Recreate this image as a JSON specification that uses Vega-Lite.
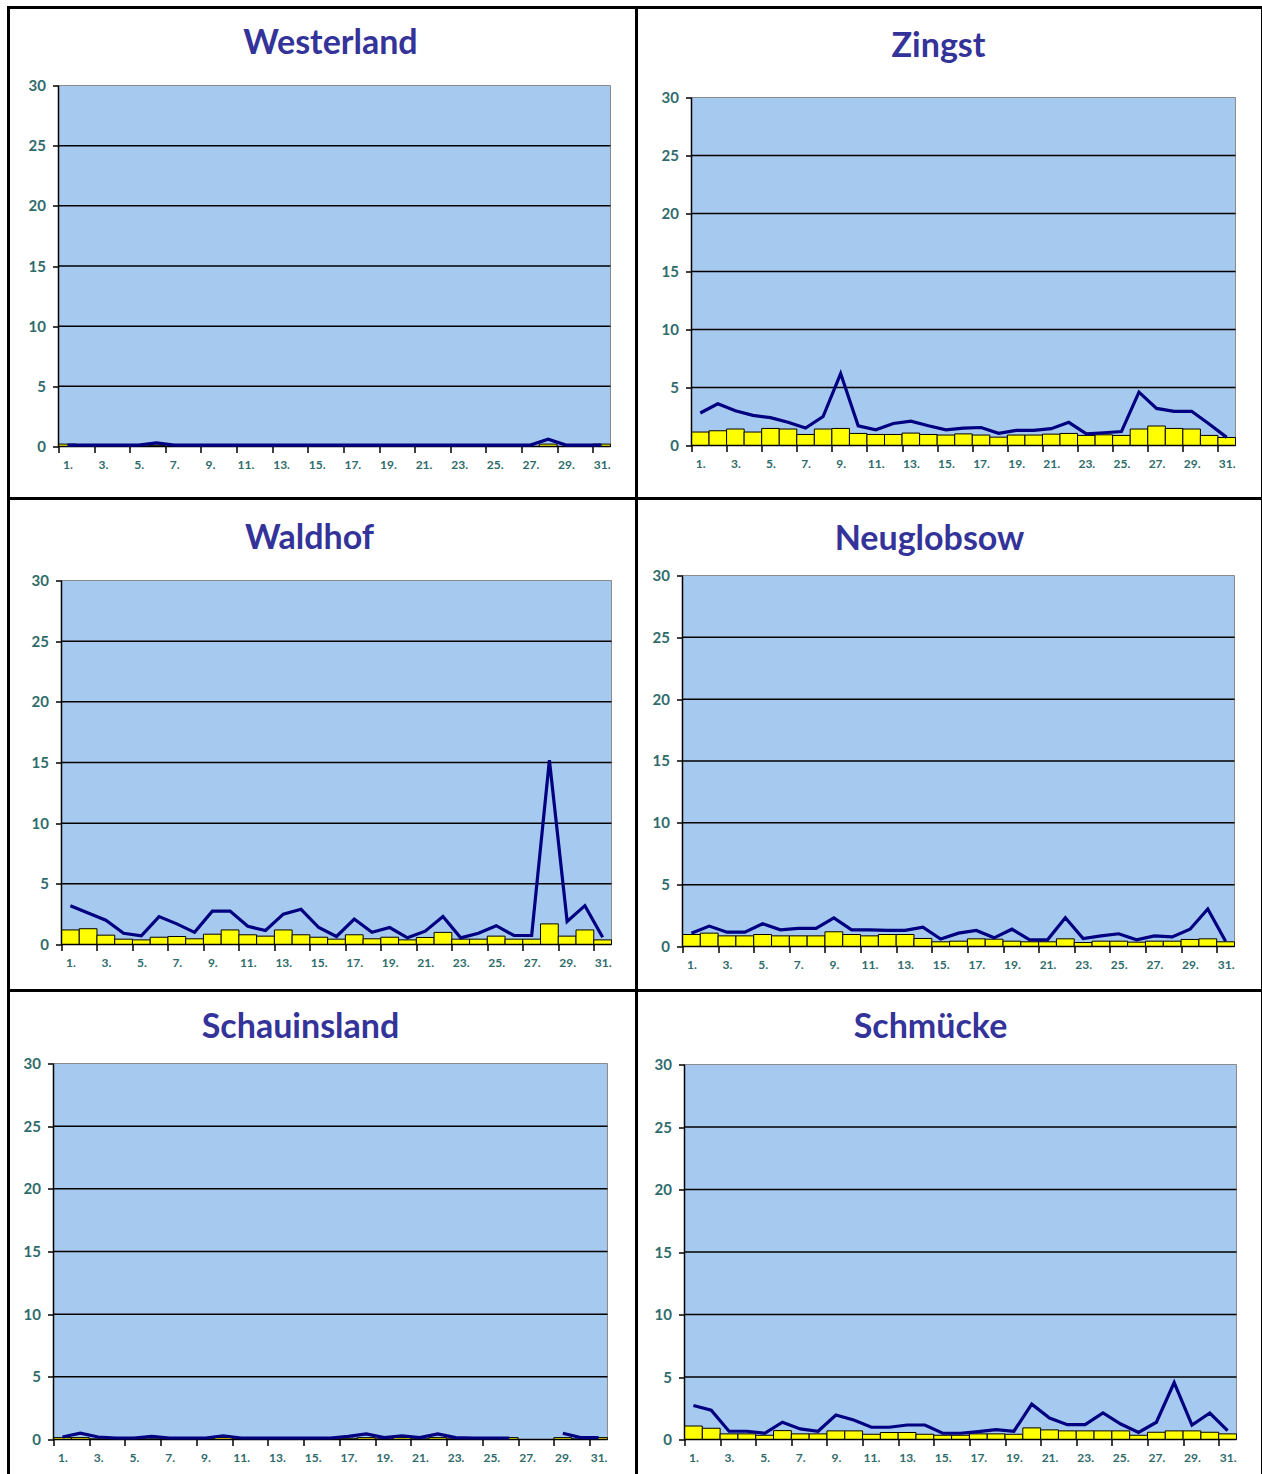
{
  "$schema": "https://vega.github.io/schema/vega-lite/v6.json",
  "background": "white",
  "padding": {"left": 6.5, "top": 5.5, "right": 0, "bottom": 0},
  "columns": 2,
  "spacing": 0,
  "bounds": "flush",
  "align": "each",
  "datasets": {
    "grid": [{"v": 5}, {"v": 10}, {"v": 15}, {"v": 20}, {"v": 25}],
    "pm": [
      {"station":"Westerland","day":1,"bar":0.2,"line":0.12},
      {"station":"Westerland","day":2,"bar":0,"line":0.12},
      {"station":"Westerland","day":3,"bar":0,"line":0.12},
      {"station":"Westerland","day":4,"bar":0,"line":0.12},
      {"station":"Westerland","day":5,"bar":0,"line":0.12},
      {"station":"Westerland","day":6,"bar":0.1,"line":0.3},
      {"station":"Westerland","day":7,"bar":0,"line":0.12},
      {"station":"Westerland","day":8,"bar":0,"line":0.12},
      {"station":"Westerland","day":9,"bar":0,"line":0.12},
      {"station":"Westerland","day":10,"bar":0,"line":0.12},
      {"station":"Westerland","day":11,"bar":0,"line":0.12},
      {"station":"Westerland","day":12,"bar":0,"line":0.12},
      {"station":"Westerland","day":13,"bar":0,"line":0.12},
      {"station":"Westerland","day":14,"bar":0,"line":0.12},
      {"station":"Westerland","day":15,"bar":0,"line":0.12},
      {"station":"Westerland","day":16,"bar":0,"line":0.12},
      {"station":"Westerland","day":17,"bar":0,"line":0.12},
      {"station":"Westerland","day":18,"bar":0,"line":0.12},
      {"station":"Westerland","day":19,"bar":0,"line":0.12},
      {"station":"Westerland","day":20,"bar":0,"line":0.12},
      {"station":"Westerland","day":21,"bar":0,"line":0.12},
      {"station":"Westerland","day":22,"bar":0,"line":0.12},
      {"station":"Westerland","day":23,"bar":0,"line":0.12},
      {"station":"Westerland","day":24,"bar":0,"line":0.12},
      {"station":"Westerland","day":25,"bar":0,"line":0.12},
      {"station":"Westerland","day":26,"bar":0,"line":0.12},
      {"station":"Westerland","day":27,"bar":0,"line":0.12},
      {"station":"Westerland","day":28,"bar":0.2,"line":0.6},
      {"station":"Westerland","day":29,"bar":0,"line":0.12},
      {"station":"Westerland","day":30,"bar":0,"line":0.12},
      {"station":"Westerland","day":31,"bar":0.2,"line":0.12},

      {"station":"Zingst","day":1,"bar":1.16,"line":2.8},
      {"station":"Zingst","day":2,"bar":1.27,"line":3.6},
      {"station":"Zingst","day":3,"bar":1.42,"line":3.0},
      {"station":"Zingst","day":4,"bar":1.16,"line":2.6},
      {"station":"Zingst","day":5,"bar":1.47,"line":2.4},
      {"station":"Zingst","day":6,"bar":1.42,"line":2.0},
      {"station":"Zingst","day":7,"bar":0.95,"line":1.5},
      {"station":"Zingst","day":8,"bar":1.42,"line":2.5},
      {"station":"Zingst","day":9,"bar":1.47,"line":6.2},
      {"station":"Zingst","day":10,"bar":1.04,"line":1.7},
      {"station":"Zingst","day":11,"bar":0.95,"line":1.35},
      {"station":"Zingst","day":12,"bar":0.95,"line":1.9},
      {"station":"Zingst","day":13,"bar":1.07,"line":2.1},
      {"station":"Zingst","day":14,"bar":0.95,"line":1.7},
      {"station":"Zingst","day":15,"bar":0.9,"line":1.35},
      {"station":"Zingst","day":16,"bar":1.0,"line":1.5},
      {"station":"Zingst","day":17,"bar":0.9,"line":1.55},
      {"station":"Zingst","day":18,"bar":0.72,"line":1.05},
      {"station":"Zingst","day":19,"bar":0.9,"line":1.3},
      {"station":"Zingst","day":20,"bar":0.9,"line":1.3},
      {"station":"Zingst","day":21,"bar":0.98,"line":1.45},
      {"station":"Zingst","day":22,"bar":1.04,"line":2.0},
      {"station":"Zingst","day":23,"bar":0.87,"line":1.0},
      {"station":"Zingst","day":24,"bar":0.92,"line":1.1},
      {"station":"Zingst","day":25,"bar":0.87,"line":1.2},
      {"station":"Zingst","day":26,"bar":1.42,"line":4.6},
      {"station":"Zingst","day":27,"bar":1.68,"line":3.2},
      {"station":"Zingst","day":28,"bar":1.47,"line":2.95},
      {"station":"Zingst","day":29,"bar":1.42,"line":2.95},
      {"station":"Zingst","day":30,"bar":0.87,"line":1.85},
      {"station":"Zingst","day":31,"bar":0.69,"line":0.7},

      {"station":"Waldhof","day":1,"bar":1.2,"line":3.2},
      {"station":"Waldhof","day":2,"bar":1.3,"line":2.6},
      {"station":"Waldhof","day":3,"bar":0.77,"line":2.0},
      {"station":"Waldhof","day":4,"bar":0.44,"line":0.93},
      {"station":"Waldhof","day":5,"bar":0.38,"line":0.71},
      {"station":"Waldhof","day":6,"bar":0.6,"line":2.3},
      {"station":"Waldhof","day":7,"bar":0.66,"line":1.7},
      {"station":"Waldhof","day":8,"bar":0.47,"line":1.0},
      {"station":"Waldhof","day":9,"bar":0.85,"line":2.75},
      {"station":"Waldhof","day":10,"bar":1.2,"line":2.75},
      {"station":"Waldhof","day":11,"bar":0.8,"line":1.5},
      {"station":"Waldhof","day":12,"bar":0.69,"line":1.15},
      {"station":"Waldhof","day":13,"bar":1.2,"line":2.5},
      {"station":"Waldhof","day":14,"bar":0.8,"line":2.9},
      {"station":"Waldhof","day":15,"bar":0.6,"line":1.4},
      {"station":"Waldhof","day":16,"bar":0.44,"line":0.66},
      {"station":"Waldhof","day":17,"bar":0.8,"line":2.1},
      {"station":"Waldhof","day":18,"bar":0.47,"line":1.0},
      {"station":"Waldhof","day":19,"bar":0.6,"line":1.4},
      {"station":"Waldhof","day":20,"bar":0.38,"line":0.55},
      {"station":"Waldhof","day":21,"bar":0.58,"line":1.1},
      {"station":"Waldhof","day":22,"bar":1.0,"line":2.3},
      {"station":"Waldhof","day":23,"bar":0.44,"line":0.55},
      {"station":"Waldhof","day":24,"bar":0.44,"line":0.93},
      {"station":"Waldhof","day":25,"bar":0.69,"line":1.55},
      {"station":"Waldhof","day":26,"bar":0.44,"line":0.74},
      {"station":"Waldhof","day":27,"bar":0.44,"line":0.74},
      {"station":"Waldhof","day":28,"bar":1.7,"line":15.2},
      {"station":"Waldhof","day":29,"bar":0.69,"line":1.9},
      {"station":"Waldhof","day":30,"bar":1.2,"line":3.2},
      {"station":"Waldhof","day":31,"bar":0.38,"line":0.6},

      {"station":"Neuglobsow","day":1,"bar":0.97,"line":1.08},
      {"station":"Neuglobsow","day":2,"bar":1.08,"line":1.65},
      {"station":"Neuglobsow","day":3,"bar":0.86,"line":1.16},
      {"station":"Neuglobsow","day":4,"bar":0.86,"line":1.16},
      {"station":"Neuglobsow","day":5,"bar":0.97,"line":1.84},
      {"station":"Neuglobsow","day":6,"bar":0.86,"line":1.35},
      {"station":"Neuglobsow","day":7,"bar":0.86,"line":1.46},
      {"station":"Neuglobsow","day":8,"bar":0.86,"line":1.46},
      {"station":"Neuglobsow","day":9,"bar":1.19,"line":2.32},
      {"station":"Neuglobsow","day":10,"bar":0.97,"line":1.35},
      {"station":"Neuglobsow","day":11,"bar":0.86,"line":1.35},
      {"station":"Neuglobsow","day":12,"bar":0.97,"line":1.3},
      {"station":"Neuglobsow","day":13,"bar":0.97,"line":1.3},
      {"station":"Neuglobsow","day":14,"bar":0.65,"line":1.57},
      {"station":"Neuglobsow","day":15,"bar":0.38,"line":0.6},
      {"station":"Neuglobsow","day":16,"bar":0.43,"line":1.08},
      {"station":"Neuglobsow","day":17,"bar":0.62,"line":1.3},
      {"station":"Neuglobsow","day":18,"bar":0.59,"line":0.7},
      {"station":"Neuglobsow","day":19,"bar":0.43,"line":1.4},
      {"station":"Neuglobsow","day":20,"bar":0.38,"line":0.54},
      {"station":"Neuglobsow","day":21,"bar":0.38,"line":0.54},
      {"station":"Neuglobsow","day":22,"bar":0.62,"line":2.32},
      {"station":"Neuglobsow","day":23,"bar":0.32,"line":0.65},
      {"station":"Neuglobsow","day":24,"bar":0.43,"line":0.86},
      {"station":"Neuglobsow","day":25,"bar":0.43,"line":1.03},
      {"station":"Neuglobsow","day":26,"bar":0.35,"line":0.54},
      {"station":"Neuglobsow","day":27,"bar":0.43,"line":0.86},
      {"station":"Neuglobsow","day":28,"bar":0.43,"line":0.78},
      {"station":"Neuglobsow","day":29,"bar":0.57,"line":1.4},
      {"station":"Neuglobsow","day":30,"bar":0.62,"line":3.03},
      {"station":"Neuglobsow","day":31,"bar":0.38,"line":0.43},

      {"station":"Schauinsland","day":1,"bar":0.15,"line":0.2},
      {"station":"Schauinsland","day":2,"bar":0.15,"line":0.5},
      {"station":"Schauinsland","day":3,"bar":0.05,"line":0.2},
      {"station":"Schauinsland","day":4,"bar":0.05,"line":0.12},
      {"station":"Schauinsland","day":5,"bar":0.05,"line":0.12},
      {"station":"Schauinsland","day":6,"bar":0.05,"line":0.25},
      {"station":"Schauinsland","day":7,"bar":0.05,"line":0.12},
      {"station":"Schauinsland","day":8,"bar":0.05,"line":0.12},
      {"station":"Schauinsland","day":9,"bar":0.05,"line":0.12},
      {"station":"Schauinsland","day":10,"bar":0.15,"line":0.3},
      {"station":"Schauinsland","day":11,"bar":0.05,"line":0.12},
      {"station":"Schauinsland","day":12,"bar":0.05,"line":0.12},
      {"station":"Schauinsland","day":13,"bar":0.05,"line":0.12},
      {"station":"Schauinsland","day":14,"bar":0.05,"line":0.12},
      {"station":"Schauinsland","day":15,"bar":0.05,"line":0.12},
      {"station":"Schauinsland","day":16,"bar":0.05,"line":0.12},
      {"station":"Schauinsland","day":17,"bar":0.1,"line":0.25},
      {"station":"Schauinsland","day":18,"bar":0.15,"line":0.45},
      {"station":"Schauinsland","day":19,"bar":0.05,"line":0.15},
      {"station":"Schauinsland","day":20,"bar":0.15,"line":0.3},
      {"station":"Schauinsland","day":21,"bar":0.05,"line":0.15},
      {"station":"Schauinsland","day":22,"bar":0.15,"line":0.45},
      {"station":"Schauinsland","day":23,"bar":0.05,"line":0.15},
      {"station":"Schauinsland","day":24,"bar":0.05,"line":0.12},
      {"station":"Schauinsland","day":25,"bar":0.05,"line":0.12},
      {"station":"Schauinsland","day":26,"bar":0.15,"line":0.12},
      {"station":"Schauinsland","day":27,"bar":null,"line":null},
      {"station":"Schauinsland","day":28,"bar":null,"line":null},
      {"station":"Schauinsland","day":29,"bar":0.15,"line":0.5},
      {"station":"Schauinsland","day":30,"bar":0.05,"line":0.15},
      {"station":"Schauinsland","day":31,"bar":0.15,"line":0.15},

      {"station":"Schmücke","day":1,"bar":1.08,"line":2.72},
      {"station":"Schmücke","day":2,"bar":0.9,"line":2.35},
      {"station":"Schmücke","day":3,"bar":0.45,"line":0.66},
      {"station":"Schmücke","day":4,"bar":0.45,"line":0.66},
      {"station":"Schmücke","day":5,"bar":0.34,"line":0.5},
      {"station":"Schmücke","day":6,"bar":0.71,"line":1.38},
      {"station":"Schmücke","day":7,"bar":0.45,"line":0.85},
      {"station":"Schmücke","day":8,"bar":0.45,"line":0.66},
      {"station":"Schmücke","day":9,"bar":0.69,"line":1.96},
      {"station":"Schmücke","day":10,"bar":0.69,"line":1.56},
      {"station":"Schmücke","day":11,"bar":0.42,"line":0.98},
      {"station":"Schmücke","day":12,"bar":0.56,"line":0.98},
      {"station":"Schmücke","day":13,"bar":0.56,"line":1.16},
      {"station":"Schmücke","day":14,"bar":0.42,"line":1.16},
      {"station":"Schmücke","day":15,"bar":0.34,"line":0.5},
      {"station":"Schmücke","day":16,"bar":0.34,"line":0.5},
      {"station":"Schmücke","day":17,"bar":0.45,"line":0.63},
      {"station":"Schmücke","day":18,"bar":0.45,"line":0.79},
      {"station":"Schmücke","day":19,"bar":0.42,"line":0.66},
      {"station":"Schmücke","day":20,"bar":0.93,"line":2.83},
      {"station":"Schmücke","day":21,"bar":0.77,"line":1.72},
      {"station":"Schmücke","day":22,"bar":0.69,"line":1.19},
      {"station":"Schmücke","day":23,"bar":0.69,"line":1.19},
      {"station":"Schmücke","day":24,"bar":0.69,"line":2.12},
      {"station":"Schmücke","day":25,"bar":0.69,"line":1.24},
      {"station":"Schmücke","day":26,"bar":0.34,"line":0.56},
      {"station":"Schmücke","day":27,"bar":0.58,"line":1.38},
      {"station":"Schmücke","day":28,"bar":0.69,"line":4.55},
      {"station":"Schmücke","day":29,"bar":0.69,"line":1.16},
      {"station":"Schmücke","day":30,"bar":0.58,"line":2.12},
      {"station":"Schmücke","day":31,"bar":0.45,"line":0.71}
    ]
  },
  "concat": [
    {
      "width": 628, "height": 491,
      "title": {"text": "Westerland", "offset": -53, "dx": 8},
      "layer": [
        {"data": {"values": [{"k": 1}]}, "mark": {"type": "rect", "fill": "#A6C9EF", "stroke": "#8A8A8A", "strokeWidth": 1},
         "encoding": {
           "x": {"datum": 0.5, "type": "quantitative", "title": null, "scale": {"domain": [-2.308, 32.96], "nice": false, "zero": false, "padding": 0},
                 "axis": {"values": [1,2,3,4,5,6,7,8,9,10,11,12,13,14,15,16,17,18,19,20,21,22,23,24,25,26,27,28,29,30,31,32], "offset": -52, "tickOffset": -8.9, "labelOffset": 8.9}},
           "x2": {"datum": 31.5},
           "y": {"datum": 0, "type": "quantitative", "title": null, "scale": {"domain": [-4.321, 36.482], "nice": false, "zero": false, "padding": 0},
                 "axis": {"values": [0,5,10,15,20,25,30], "offset": -50}},
           "y2": {"datum": 30}}},
        {"data": {"name": "grid"}, "mark": {"type": "rule", "color": "black", "strokeWidth": 1.5},
         "encoding": {"y": {"field": "v", "type": "quantitative", "title": null}, "x": {"datum": 0.5, "type": "quantitative", "title": null}, "x2": {"datum": 31.5}}},
        {"data": {"name": "pm"}, "transform": [{"filter": "datum.station === 'Westerland'"}],
         "mark": {"type": "bar", "color": "#FFFF00", "stroke": "black", "strokeWidth": 1, "width": 17.8},
         "encoding": {"x": {"field": "day", "type": "quantitative", "title": null}, "y": {"field": "bar", "type": "quantitative", "title": null}}},
        {"data": {"values": [{"k": 1}]}, "mark": {"type": "rule", "color": "black", "strokeWidth": 1.5},
         "encoding": {"x": {"datum": 0.5, "type": "quantitative", "title": null}, "x2": {"datum": 31.5}, "y": {"datum": 0, "type": "quantitative", "title": null}}},
        {"data": {"values": [{"k": 1}]}, "mark": {"type": "rule", "color": "black", "strokeWidth": 1.5},
         "encoding": {"x": {"datum": 0.5, "type": "quantitative", "title": null}, "y": {"datum": 0, "type": "quantitative", "title": null}, "y2": {"datum": 30}}},
        {"data": {"name": "pm"}, "transform": [{"filter": "datum.station === 'Westerland'"}],
         "mark": {"type": "line", "color": "#000080", "strokeWidth": 3.2},
         "encoding": {"x": {"field": "day", "type": "quantitative", "title": null}, "y": {"field": "line", "type": "quantitative", "title": null}}}
      ]
    },
    {
      "width": 626, "height": 491,
      "title": {"text": "Zingst", "offset": -56, "dx": -11},
      "layer": [
        {"data": {"values": [{"k": 1}]}, "mark": {"type": "rect", "fill": "#A6C9EF", "stroke": "#8A8A8A", "strokeWidth": 1},
         "encoding": {
           "x": {"datum": 0.5, "type": "quantitative", "title": null, "scale": {"domain": [-2.634, 33.039], "nice": false, "zero": false, "padding": 0},
                 "axis": {"values": [1,2,3,4,5,6,7,8,9,10,11,12,13,14,15,16,17,18,19,20,21,22,23,24,25,26,27,28,29,30,31,32], "offset": -53, "tickOffset": -8.77, "labelOffset": 8.77}},
           "x2": {"datum": 31.5},
           "y": {"datum": 0, "type": "quantitative", "title": null, "scale": {"domain": [-4.569, 37.759], "nice": false, "zero": false, "padding": 0},
                 "axis": {"values": [0,5,10,15,20,25,30], "offset": -55}},
           "y2": {"datum": 30}}},
        {"data": {"name": "grid"}, "mark": {"type": "rule", "color": "black", "strokeWidth": 1.5},
         "encoding": {"y": {"field": "v", "type": "quantitative", "title": null}, "x": {"datum": 0.5, "type": "quantitative", "title": null}, "x2": {"datum": 31.5}}},
        {"data": {"name": "pm"}, "transform": [{"filter": "datum.station === 'Zingst'"}],
         "mark": {"type": "bar", "color": "#FFFF00", "stroke": "black", "strokeWidth": 1, "width": 17.55},
         "encoding": {"x": {"field": "day", "type": "quantitative", "title": null}, "y": {"field": "bar", "type": "quantitative", "title": null}}},
        {"data": {"values": [{"k": 1}]}, "mark": {"type": "rule", "color": "black", "strokeWidth": 1.5},
         "encoding": {"x": {"datum": 0.5, "type": "quantitative", "title": null}, "x2": {"datum": 31.5}, "y": {"datum": 0, "type": "quantitative", "title": null}}},
        {"data": {"values": [{"k": 1}]}, "mark": {"type": "rule", "color": "black", "strokeWidth": 1.5},
         "encoding": {"x": {"datum": 0.5, "type": "quantitative", "title": null}, "y": {"datum": 0, "type": "quantitative", "title": null}, "y2": {"datum": 30}}},
        {"data": {"name": "pm"}, "transform": [{"filter": "datum.station === 'Zingst'"}],
         "mark": {"type": "line", "color": "#000080", "strokeWidth": 3.2},
         "encoding": {"x": {"field": "day", "type": "quantitative", "title": null}, "y": {"field": "line", "type": "quantitative", "title": null}}}
      ]
    },
    {
      "width": 628, "height": 492,
      "title": {"text": "Waldhof", "offset": -57.5, "dx": -13},
      "layer": [
        {"data": {"values": [{"k": 1}]}, "mark": {"type": "rect", "fill": "#A6C9EF", "stroke": "#8A8A8A", "strokeWidth": 1},
         "encoding": {
           "x": {"datum": 0.5, "type": "quantitative", "title": null, "scale": {"domain": [-2.487, 32.909], "nice": false, "zero": false, "padding": 0},
                 "axis": {"values": [1,2,3,4,5,6,7,8,9,10,11,12,13,14,15,16,17,18,19,20,21,22,23,24,25,26,27,28,29,30,31,32], "offset": -46, "tickOffset": -8.87, "labelOffset": 8.87}},
           "x2": {"datum": 31.5},
           "y": {"datum": 0, "type": "quantitative", "title": null, "scale": {"domain": [-3.791, 36.758], "nice": false, "zero": false, "padding": 0},
                 "axis": {"values": [0,5,10,15,20,25,30], "offset": -53}},
           "y2": {"datum": 30}}},
        {"data": {"name": "grid"}, "mark": {"type": "rule", "color": "black", "strokeWidth": 1.5},
         "encoding": {"y": {"field": "v", "type": "quantitative", "title": null}, "x": {"datum": 0.5, "type": "quantitative", "title": null}, "x2": {"datum": 31.5}}},
        {"data": {"name": "pm"}, "transform": [{"filter": "datum.station === 'Waldhof'"}],
         "mark": {"type": "bar", "color": "#FFFF00", "stroke": "black", "strokeWidth": 1, "width": 17.74},
         "encoding": {"x": {"field": "day", "type": "quantitative", "title": null}, "y": {"field": "bar", "type": "quantitative", "title": null}}},
        {"data": {"values": [{"k": 1}]}, "mark": {"type": "rule", "color": "black", "strokeWidth": 1.5},
         "encoding": {"x": {"datum": 0.5, "type": "quantitative", "title": null}, "x2": {"datum": 31.5}, "y": {"datum": 0, "type": "quantitative", "title": null}}},
        {"data": {"values": [{"k": 1}]}, "mark": {"type": "rule", "color": "black", "strokeWidth": 1.5},
         "encoding": {"x": {"datum": 0.5, "type": "quantitative", "title": null}, "y": {"datum": 0, "type": "quantitative", "title": null}, "y2": {"datum": 30}}},
        {"data": {"name": "pm"}, "transform": [{"filter": "datum.station === 'Waldhof'"}],
         "mark": {"type": "line", "color": "#000080", "strokeWidth": 3.2},
         "encoding": {"x": {"field": "day", "type": "quantitative", "title": null}, "y": {"field": "line", "type": "quantitative", "title": null}}}
      ]
    },
    {
      "width": 626, "height": 492,
      "title": {"text": "Neuglobsow", "offset": -58.5, "dx": -20},
      "layer": [
        {"data": {"values": [{"k": 1}]}, "mark": {"type": "rect", "fill": "#A6C9EF", "stroke": "#8A8A8A", "strokeWidth": 1},
         "encoding": {
           "x": {"datum": 0.5, "type": "quantitative", "title": null, "scale": {"domain": [-2.083, 33.072], "nice": false, "zero": false, "padding": 0},
                 "axis": {"values": [1,2,3,4,5,6,7,8,9,10,11,12,13,14,15,16,17,18,19,20,21,22,23,24,25,26,27,28,29,30,31,32], "offset": -44, "tickOffset": -8.9, "labelOffset": 8.9}},
           "x2": {"datum": 31.5},
           "y": {"datum": 0, "type": "quantitative", "title": null, "scale": {"domain": [-3.558, 36.226], "nice": false, "zero": false, "padding": 0},
                 "axis": {"values": [0,5,10,15,20,25,30], "offset": -46}},
           "y2": {"datum": 30}}},
        {"data": {"name": "grid"}, "mark": {"type": "rule", "color": "black", "strokeWidth": 1.5},
         "encoding": {"y": {"field": "v", "type": "quantitative", "title": null}, "x": {"datum": 0.5, "type": "quantitative", "title": null}, "x2": {"datum": 31.5}}},
        {"data": {"name": "pm"}, "transform": [{"filter": "datum.station === 'Neuglobsow'"}],
         "mark": {"type": "bar", "color": "#FFFF00", "stroke": "black", "strokeWidth": 1, "width": 17.8},
         "encoding": {"x": {"field": "day", "type": "quantitative", "title": null}, "y": {"field": "bar", "type": "quantitative", "title": null}}},
        {"data": {"values": [{"k": 1}]}, "mark": {"type": "rule", "color": "black", "strokeWidth": 1.5},
         "encoding": {"x": {"datum": 0.5, "type": "quantitative", "title": null}, "x2": {"datum": 31.5}, "y": {"datum": 0, "type": "quantitative", "title": null}}},
        {"data": {"values": [{"k": 1}]}, "mark": {"type": "rule", "color": "black", "strokeWidth": 1.5},
         "encoding": {"x": {"datum": 0.5, "type": "quantitative", "title": null}, "y": {"datum": 0, "type": "quantitative", "title": null}, "y2": {"datum": 30}}},
        {"data": {"name": "pm"}, "transform": [{"filter": "datum.station === 'Neuglobsow'"}],
         "mark": {"type": "line", "color": "#000080", "strokeWidth": 3.2},
         "encoding": {"x": {"field": "day", "type": "quantitative", "title": null}, "y": {"field": "line", "type": "quantitative", "title": null}}}
      ]
    },
    {
      "width": 628, "height": 486,
      "title": {"text": "Schauinsland", "offset": -54.5, "dx": -22},
      "layer": [
        {"data": {"values": [{"k": 1}]}, "mark": {"type": "rect", "fill": "#A6C9EF", "stroke": "#8A8A8A", "strokeWidth": 1},
         "encoding": {
           "x": {"datum": 0.5, "type": "quantitative", "title": null, "scale": {"domain": [-2.018, 33.123], "nice": false, "zero": false, "padding": 0},
                 "axis": {"values": [1,2,3,4,5,6,7,8,9,10,11,12,13,14,15,16,17,18,19,20,21,22,23,24,25,26,27,28,29,30,31,32], "offset": -37, "tickOffset": -8.94, "labelOffset": 8.94}},
           "x2": {"datum": 31.5},
           "y": {"datum": 0, "type": "quantitative", "title": null, "scale": {"domain": [-2.952, 35.825], "nice": false, "zero": false, "padding": 0},
                 "axis": {"values": [0,5,10,15,20,25,30], "offset": -45}},
           "y2": {"datum": 30}}},
        {"data": {"name": "grid"}, "mark": {"type": "rule", "color": "black", "strokeWidth": 1.5},
         "encoding": {"y": {"field": "v", "type": "quantitative", "title": null}, "x": {"datum": 0.5, "type": "quantitative", "title": null}, "x2": {"datum": 31.5}}},
        {"data": {"name": "pm"}, "transform": [{"filter": "datum.station === 'Schauinsland'"}],
         "mark": {"type": "bar", "color": "#FFFF00", "stroke": "black", "strokeWidth": 1, "width": 17.87},
         "encoding": {"x": {"field": "day", "type": "quantitative", "title": null}, "y": {"field": "bar", "type": "quantitative", "title": null}}},
        {"data": {"values": [{"k": 1}]}, "mark": {"type": "rule", "color": "black", "strokeWidth": 1.5},
         "encoding": {"x": {"datum": 0.5, "type": "quantitative", "title": null}, "x2": {"datum": 31.5}, "y": {"datum": 0, "type": "quantitative", "title": null}}},
        {"data": {"values": [{"k": 1}]}, "mark": {"type": "rule", "color": "black", "strokeWidth": 1.5},
         "encoding": {"x": {"datum": 0.5, "type": "quantitative", "title": null}, "y": {"datum": 0, "type": "quantitative", "title": null}, "y2": {"datum": 30}}},
        {"data": {"name": "pm"}, "transform": [{"filter": "datum.station === 'Schauinsland'"}],
         "mark": {"type": "line", "color": "#000080", "strokeWidth": 3.2},
         "encoding": {"x": {"field": "day", "type": "quantitative", "title": null}, "y": {"field": "line", "type": "quantitative", "title": null}}}
      ]
    },
    {
      "width": 626, "height": 486,
      "title": {"text": "Schmücke", "offset": -54.5, "dx": -19},
      "layer": [
        {"data": {"values": [{"k": 1}]}, "mark": {"type": "rect", "fill": "#A6C9EF", "stroke": "#8A8A8A", "strokeWidth": 1},
         "encoding": {
           "x": {"datum": 0.5, "type": "quantitative", "title": null, "scale": {"domain": [-2.196, 32.96], "nice": false, "zero": false, "padding": 0},
                 "axis": {"values": [1,2,3,4,5,6,7,8,9,10,11,12,13,14,15,16,17,18,19,20,21,22,23,24,25,26,27,28,29,30,31,32], "offset": -37, "tickOffset": -8.9, "labelOffset": 8.9}},
           "x2": {"datum": 31.5},
           "y": {"datum": 0, "type": "quantitative", "title": null, "scale": {"domain": [-2.96, 35.92], "nice": false, "zero": false, "padding": 0},
                 "axis": {"values": [0,5,10,15,20,25,30], "offset": -48}},
           "y2": {"datum": 30}}},
        {"data": {"name": "grid"}, "mark": {"type": "rule", "color": "black", "strokeWidth": 1.5},
         "encoding": {"y": {"field": "v", "type": "quantitative", "title": null}, "x": {"datum": 0.5, "type": "quantitative", "title": null}, "x2": {"datum": 31.5}}},
        {"data": {"name": "pm"}, "transform": [{"filter": "datum.station === 'Schmücke'"}],
         "mark": {"type": "bar", "color": "#FFFF00", "stroke": "black", "strokeWidth": 1, "width": 17.8},
         "encoding": {"x": {"field": "day", "type": "quantitative", "title": null}, "y": {"field": "bar", "type": "quantitative", "title": null}}},
        {"data": {"values": [{"k": 1}]}, "mark": {"type": "rule", "color": "black", "strokeWidth": 1.5},
         "encoding": {"x": {"datum": 0.5, "type": "quantitative", "title": null}, "x2": {"datum": 31.5}, "y": {"datum": 0, "type": "quantitative", "title": null}}},
        {"data": {"values": [{"k": 1}]}, "mark": {"type": "rule", "color": "black", "strokeWidth": 1.5},
         "encoding": {"x": {"datum": 0.5, "type": "quantitative", "title": null}, "y": {"datum": 0, "type": "quantitative", "title": null}, "y2": {"datum": 30}}},
        {"data": {"name": "pm"}, "transform": [{"filter": "datum.station === 'Schmücke'"}],
         "mark": {"type": "line", "color": "#000080", "strokeWidth": 3.2},
         "encoding": {"x": {"field": "day", "type": "quantitative", "title": null}, "y": {"field": "line", "type": "quantitative", "title": null}}}
      ]
    }
  ],
  "config": {
    "view": {"stroke": "black", "strokeWidth": 3, "fill": "white"},
    "title": {"font": "Lato", "fontSize": 34, "fontWeight": "bold", "color": "#333399", "anchor": "middle", "frame": "group"},
    "axis": {"domain": false, "grid": false, "tickColor": "black", "tickWidth": 1.5, "tickSize": 6, "labelFont": "Lato", "labelFontWeight": "bold", "labelColor": "#2F6B6B", "labelFlush": false, "labelOverlap": false},
    "axisX": {"labelFontSize": 12, "labelPadding": 7, "labelExpr": "datum.value % 2 == 1 && datum.value < 32 ? datum.value + '.' : ''"},
    "axisY": {"labelFontSize": 15, "labelPadding": 7}
  }
}
